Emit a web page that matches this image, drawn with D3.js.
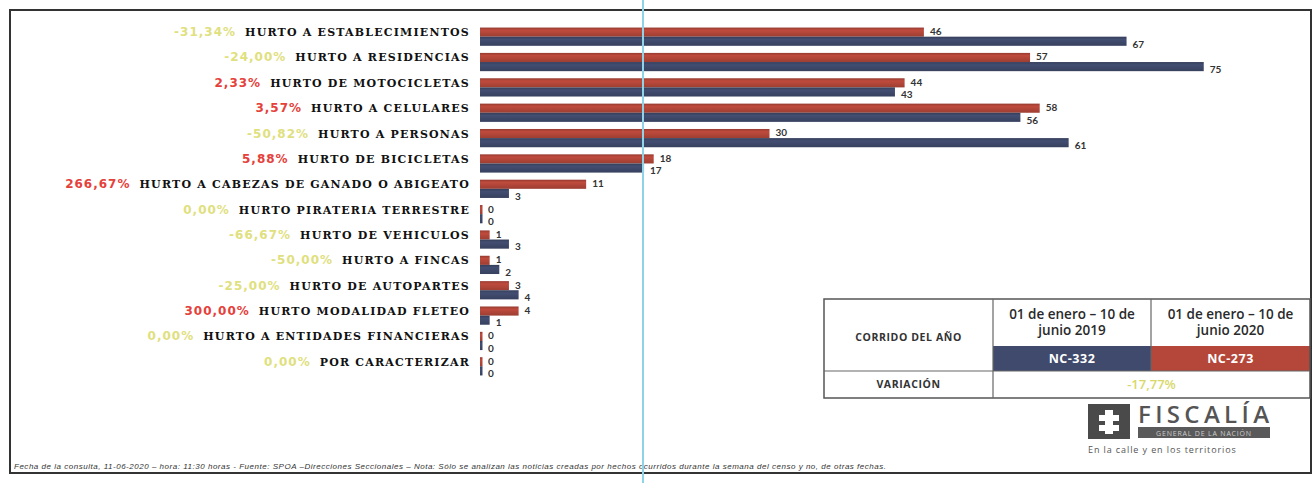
<!DOCTYPE html>
<html><head><meta charset="utf-8">
<script src="https://cdn.jsdelivr.net/npm/d3@7"></script>
<style>body{margin:0;background:#fff}</style>
</head><body>
<svg id="c" width="1314" height="483"></svg>
<script>
const categories = ["HURTO A ESTABLECIMIENTOS","HURTO A RESIDENCIAS","HURTO DE MOTOCICLETAS","HURTO A CELULARES","HURTO A PERSONAS","HURTO DE BICICLETAS","HURTO A CABEZAS  DE GANADO O ABIGEATO","HURTO PIRATERIA TERRESTRE","HURTO DE VEHICULOS","HURTO A FINCAS","HURTO DE AUTOPARTES","HURTO MODALIDAD FLETEO","HURTO A ENTIDADES FINANCIERAS","POR CARACTERIZAR"];
const values2020 = [46,57,44,58,30,18,11,0,1,1,3,4,0,0];
const values2019 = [67,75,43,56,61,17,3,0,3,2,4,1,0,0];
const variations = ["-31,34%","-24,00%","2,33%","3,57%","-50,82%","5,88%","266,67%","0,00%","-66,67%","-50,00%","-25,00%","300,00%","0,00%","0,00%"];
const tableHeaders = ["01 de enero –  10 de|junio 2019","01 de enero –  10 de|junio 2020"];
const tableTotals = ["NC-332","NC-273"];
const totalVariation = "-17,77%";
const footnote = "Fecha de la consulta, 11-06-2020 –  hora: 11:30 horas - Fuente: SPOA –Direcciones Seccionales – Nota: Sólo se analizan las noticias creadas por hechos ocurridos durante la semana del censo y no, de otras fechas.";

const svg = d3.select("#c");
const RED = "#b5473a", BLUE = "#3f4a6c";
const defs = svg.append("defs");
function grad(id, c){
  const g = defs.append("linearGradient").attr("id",id).attr("x1",0).attr("y1",0).attr("x2",0).attr("y2",1);
  g.append("stop").attr("offset","0%").attr("stop-color",d3.color(c).darker(0.5));
  g.append("stop").attr("offset","30%").attr("stop-color",d3.color(c).brighter(0.15));
  g.append("stop").attr("offset","100%").attr("stop-color",d3.color(c).darker(0.4));
}
grad("gr",RED); grad("gb",BLUE);

// outer frame
svg.append("rect").attr("x",10).attr("y",10).attr("width",1301).attr("height",463)
  .attr("fill","none").attr("stroke","#333").attr("stroke-width",2);

const y = d3.scaleBand().domain(categories).range([24,379]).paddingInner(0.28).paddingOuter(0.14);
const ys = d3.scaleBand().domain(["2020","2019"]).range([0,y.bandwidth()]);
const x = d3.scaleLinear().domain([0,80]).range([480,480+9.65*80]);

const rows = svg.append("g").selectAll("g").data(categories).join("g")
  .attr("transform",d=>`translate(0,${y(d)})`);

const series = [{k:"2020",vals:values2020,fill:"url(#gr)",dy:7.5},{k:"2019",vals:values2019,fill:"url(#gb)",dy:20}];
series.forEach(s=>{
  rows.append("rect")
    .attr("x",x(0))
    .attr("y",ys(s.k))
    .attr("width",(d,i)=>Math.max(x(s.vals[i])-x(0),2.5))
    .attr("height",ys.bandwidth())
    .attr("fill",s.fill);
  rows.append("text")
    .attr("x",(d,i)=>Math.max(x(s.vals[i]),x(0)+2)+6)
    .attr("y",s.dy)
    .attr("font-family","Lato, sans-serif").attr("font-weight","bold").attr("font-size",10)
    .attr("fill","#333")
    .text((d,i)=>s.vals[i]);
});

// category labels
const labels = rows.append("text")
  .attr("x",470).attr("y",ys("2020")+ys.bandwidth()/2+4)
  .attr("text-anchor","end")
  .attr("font-family","DejaVu Serif, serif").attr("font-weight","bold").attr("font-size",11)
  .attr("letter-spacing",1.2)
  .attr("fill","#111")
  .text(d=>d);

labels.each(function(d,i){
  const w = this.getComputedTextLength();
  const v = variations[i];
  const pos = !v.startsWith("-") && v!=="0,00%";
  d3.select(this.parentNode).append("text")
    .attr("x",470-w-9).attr("y",ys("2020")+ys.bandwidth()/2+4)
    .attr("text-anchor","end")
    .attr("font-family","DejaVu Sans, sans-serif").attr("font-weight","bold").attr("font-size",12)
    .attr("letter-spacing",1)
    .attr("fill",pos?"#e5413b":"#dfe07e")
    .text(v);
});

// table
const T = {x0:824,x1:993,x2:1151,x3:1310,y0:299,y1:346,y2:371,y3:398};
const tg = svg.append("g");
tg.append("rect").attr("x",T.x1).attr("y",T.y1).attr("width",T.x2-T.x1).attr("height",T.y2-T.y1).attr("fill",BLUE);
tg.append("rect").attr("x",T.x2).attr("y",T.y1).attr("width",T.x3-T.x2).attr("height",T.y2-T.y1).attr("fill",RED);
tg.append("rect").attr("x",T.x0).attr("y",T.y0).attr("width",T.x3-T.x0).attr("height",T.y3-T.y0)
  .attr("fill","none").attr("stroke","#555").attr("stroke-width",1.5);
[[T.x1,T.y0,T.x1,T.y3],[T.x2,T.y0,T.x2,T.y2],[T.x0,T.y2,T.x3,T.y2]].forEach(l=>
  tg.append("line").attr("x1",l[0]).attr("y1",l[1]).attr("x2",l[2]).attr("y2",l[3]).attr("stroke","#666").attr("stroke-width",1.2));
const tf = "Open Sans, sans-serif";
tg.append("text").attr("x",(T.x0+T.x1)/2).attr("y",341).attr("text-anchor","middle")
  .attr("font-family",tf).attr("font-weight","bold").attr("font-size",10.5).attr("letter-spacing",0.6).attr("fill","#333").text("CORRIDO DEL AÑO");
tg.append("text").attr("x",(T.x0+T.x1)/2).attr("y",388).attr("text-anchor","middle")
  .attr("font-family",tf).attr("font-weight","bold").attr("font-size",10.5).attr("letter-spacing",0.6).attr("fill","#333").text("VARIACIÓN");
[[T.x1,T.x2],[T.x2,T.x3]].forEach((c,i)=>{
  const parts = tableHeaders[i].split("|");
  parts.forEach((p,j)=>tg.append("text").attr("x",(c[0]+c[1])/2).attr("y",319+j*16).attr("text-anchor","middle")
    .attr("font-family",tf).attr("font-weight","600").attr("font-size",13.5).attr("fill","#2a2a2a").text(p));
  tg.append("text").attr("x",(c[0]+c[1])/2).attr("y",363).attr("text-anchor","middle")
    .attr("font-family",tf).attr("font-weight","bold").attr("font-size",12.5).attr("fill","#fff").attr("letter-spacing",0.5).text(tableTotals[i]);
});
tg.append("text").attr("x",(T.x1+T.x3)/2).attr("y",389).attr("text-anchor","middle")
  .attr("font-family",tf).attr("font-weight","600").attr("font-size",13).attr("fill","#d8d86a").text(totalVariation);

// logo
const lg = svg.append("g");
lg.append("rect").attr("x",1088).attr("y",404).attr("width",42).attr("height",35).attr("fill","#4a4a4a");
lg.append("path").attr("d","M1105,410h8v5h6v6h-6v4h6v6h-6v3h-8v-3h-6v-6h6v-4h-6v-6h6z").attr("fill","#fff");
lg.append("text").attr("x",1138).attr("y",423).attr("font-family",tf).attr("font-weight","600").attr("font-size",24)
  .attr("fill","#555").attr("textLength",131).attr("lengthAdjust","spacing").text("FISCALÍA");
lg.append("rect").attr("x",1138).attr("y",427).attr("width",132).attr("height",11).attr("fill","#5a5a5a");
lg.append("text").attr("x",1204).attr("y",435.5).attr("text-anchor","middle").attr("font-family",tf).attr("font-size",7)
  .attr("fill","#ccc").attr("letter-spacing",0.8).text("GENERAL DE LA NACIÓN");
lg.append("text").attr("x",1088).attr("y",453).attr("font-family",tf).attr("font-size",9)
  .attr("fill","#555").attr("letter-spacing",0.9).text("En la calle y en los territorios");

// footnote
svg.append("text").attr("x",14).attr("y",469).attr("font-family","Liberation Sans, sans-serif").attr("font-style","italic")
  .attr("font-size",8).attr("fill","#333").attr("textLength",872).attr("lengthAdjust","spacing").text(footnote);

// scan line
svg.append("line").attr("x1",643).attr("x2",643).attr("y1",0).attr("y2",483).attr("stroke","#8fd3e8").attr("stroke-width",2);
</script>
</body></html>
